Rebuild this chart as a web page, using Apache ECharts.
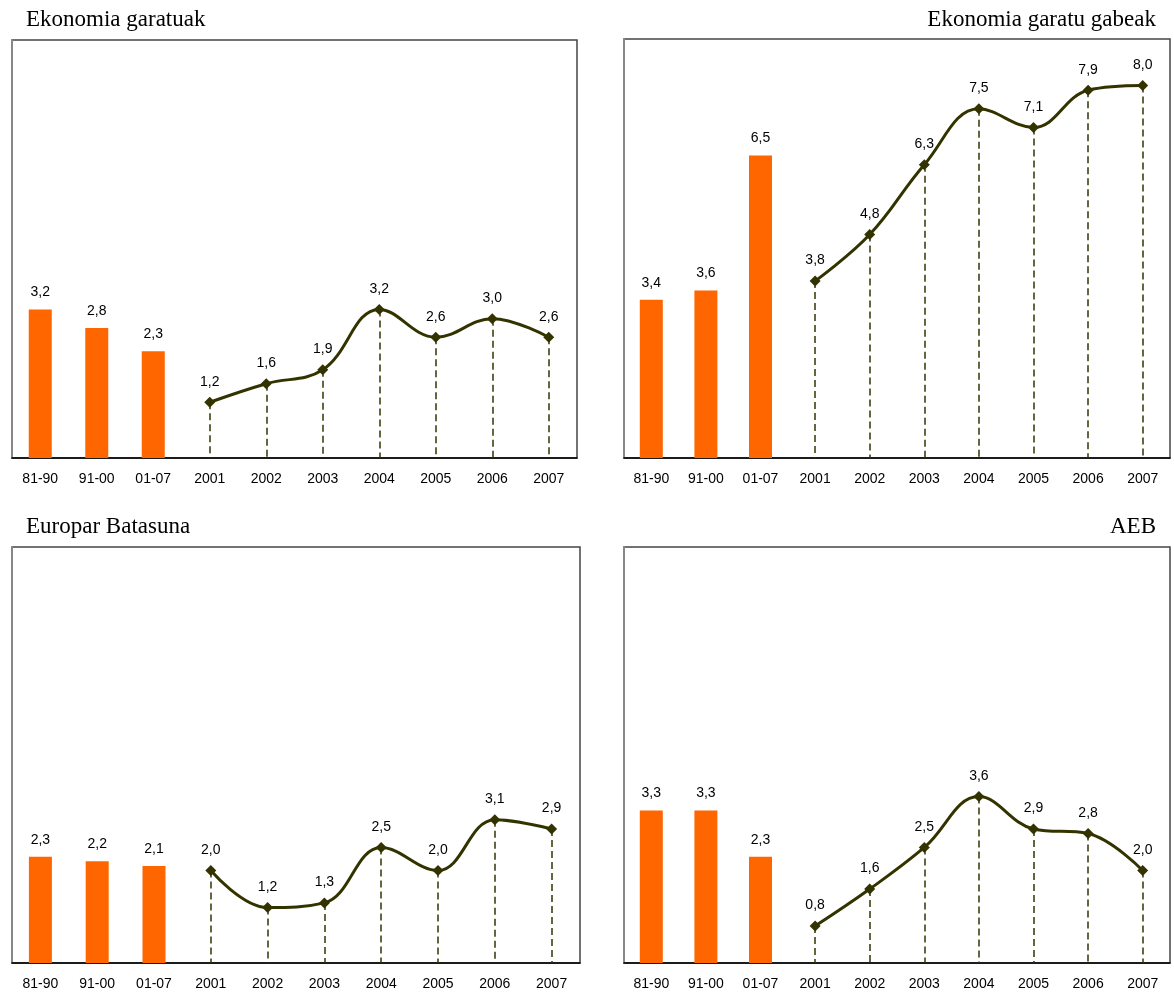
<!DOCTYPE html>
<html>
<head>
<meta charset="utf-8">
<script src="https://cdn.jsdelivr.net/npm/echarts@6/dist/echarts.min.js"></script>
<style>
html,body{margin:0;padding:0;background:#fff;}
#chart{width:1174px;height:998px;}
</style>
</head>
<body>
<div id="chart"></div>
<script>
var categories = ['81-90','91-00','01-07','2001','2002','2003','2004','2005','2006','2007'];
var titles = ['Ekonomia garatuak','Ekonomia garatu gabeak','Europar Batasuna','AEB'];

var barsGaratuak   = [3.2, 2.8, 2.3];
var lineGaratuak   = [1.2, 1.6, 1.9, 3.2, 2.6, 3.0, 2.6];
var barsGabeak     = [3.4, 3.6, 6.5];
var lineGabeak     = [3.8, 4.8, 6.3, 7.5, 7.1, 7.9, 8.0];
var barsEB         = [2.3, 2.2, 2.1];
var lineEB         = [2.0, 1.2, 1.3, 2.5, 2.0, 3.1, 2.9];
var barsAEB        = [3.3, 3.3, 2.3];
var lineAEB        = [0.8, 1.6, 2.5, 3.6, 2.9, 2.8, 2.0];

var panels = [
  {bars: barsGaratuak, line: lineGaratuak},
  {bars: barsGabeak, line: lineGabeak},
  {bars: barsEB, line: lineEB},
  {bars: barsAEB, line: lineAEB}
];

var grids = [
  {left: 12, top: 40, width: 565, height: 418},
  {left: 624, top: 39, width: 546, height: 419},
  {left: 12, top: 547, width: 568, height: 416},
  {left: 624, top: 547, width: 546, height: 416}
];

var fmt = function (v) { return v.toFixed(1).replace('.', ','); };
var OLIVE = '#333300';
var ORANGE = '#FF6600';

var option = {
  animation: false,
  backgroundColor: '#fff',
  title: [
    {text: titles[0], left: 26, top: 8},
    {text: titles[1], right: 18, top: 8},
    {text: titles[2], left: 26, top: 515},
    {text: titles[3], right: 18, top: 515}
  ].map(function (t) {
    t.padding = 0;
    t.textStyle = {fontFamily: '"Liberation Serif","DejaVu Serif",serif', fontSize: 23, fontWeight: 'normal', color: '#000'};
    return t;
  }),
  grid: grids.map(function (g) {
    return Object.assign({show: true, borderColor: '#444', borderWidth: 1.5, backgroundColor: '#fff'}, g);
  }),
  xAxis: grids.map(function (g, i) {
    return {
      type: 'category', gridIndex: i, data: categories, boundaryGap: true,
      axisLine: {lineStyle: {color: '#000', width: 1.5}},
      axisTick: {inside: true, length: 5, lineStyle: {color: '#000', width: 1}},
      axisLabel: {color: '#000', fontFamily: '"Liberation Sans",Arial,sans-serif', fontSize: 14, margin: 14, interval: 0},
      splitLine: {show: false}
    };
  }),
  yAxis: grids.map(function (g, i) {
    return {
      type: 'value', gridIndex: i, min: 0, max: 9,
      axisLine: {show: true, lineStyle: {color: '#888', width: 2}},
      axisTick: {show: false}, axisLabel: {show: false}, splitLine: {show: false}
    };
  }),
  series: []
};

panels.forEach(function (p, i) {
  var barData = categories.map(function (c, k) { return k < p.bars.length ? p.bars[k] : null; });
  var offset = p.bars.length;
  var lineData = categories.map(function (c, k) { return k >= offset ? p.line[k - offset] : null; });
  var drops = [];
  p.line.forEach(function (v, k) {
    drops.push([{coord: [k + offset, v]}, {coord: [k + offset, 0]}]);
  });
  option.series.push({
    type: 'bar', xAxisIndex: i, yAxisIndex: i, data: barData, barWidth: 23,
    itemStyle: {color: ORANGE},
    label: {show: true, position: 'top', distance: 10, color: '#000',
      fontFamily: '"Liberation Sans",Arial,sans-serif', fontSize: 14,
      formatter: function (d) { return fmt(d.value); }}
  });
  option.series.push({
    type: 'line', xAxisIndex: i, yAxisIndex: i, data: lineData, smooth: 0.4,
    symbol: 'diamond', symbolSize: 11, showAllSymbol: true,
    lineStyle: {color: OLIVE, width: 3}, itemStyle: {color: OLIVE},
    label: {show: true, position: 'top', distance: 8, color: '#000',
      fontFamily: '"Liberation Sans",Arial,sans-serif', fontSize: 14,
      formatter: function (d) { return fmt(d.value); }},
    markLine: {
      silent: true, symbol: ['none', 'none'], label: {show: false},
      lineStyle: {color: OLIVE, width: 1.5, type: [7, 4]},
      emphasis: {disabled: true},
      data: drops
    },
    z: 3
  });
});

var chart = echarts.init(document.getElementById('chart'), null, {renderer: 'canvas'});
chart.setOption(option);
</script>
</body>
</html>
